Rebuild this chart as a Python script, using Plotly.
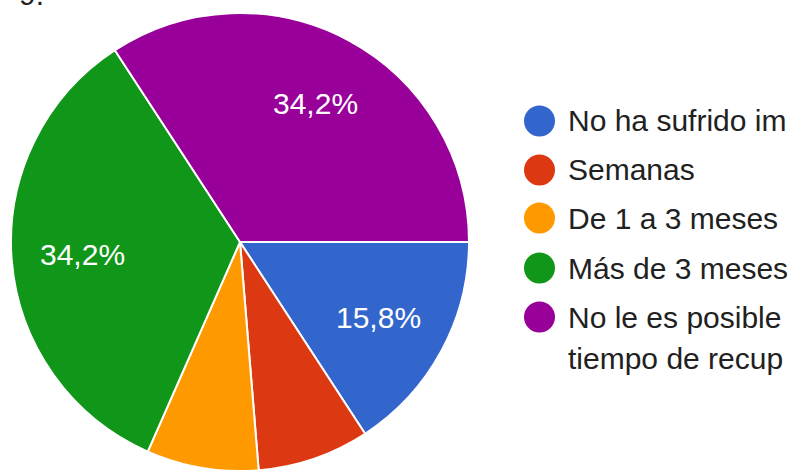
import math
import plotly.graph_objects as go

# ---- data ----
categories = [
    "No ha sufrido im",
    "Semanas",
    "De 1 a 3 meses",
    "Más de 3 meses",
    "No le es posible tiempo de recup",
]
legend_lines = [
    ["No ha sufrido im"],
    ["Semanas"],
    ["De 1 a 3 meses"],
    ["Más de 3 meses"],
    ["No le es posible", "tiempo de recup"],
]
percentages = [15.8, 7.9, 7.9, 34.2, 34.2]
colors = ["#3366cc", "#dc3912", "#ff9900", "#109618", "#990099"]

W, H = 793, 471
FONT = "Liberation Sans, Arial, sans-serif"

def px(x):
    return x / W

def py(y):
    return 1 - y / H

cx, cy, r = 240, 242, 229

fig = go.Figure(
    go.Pie(
        labels=categories,
        values=percentages,
        sort=False,
        direction="clockwise",
        rotation=90,
        marker=dict(colors=colors, line=dict(color="white", width=2)),
        textinfo="none",
        hoverinfo="none",
        showlegend=False,
        domain=dict(x=[px(cx - r), px(cx + r)], y=[0, py(cy - r)]),
    )
)

annotations = []
shapes = []

# slice percentage labels (only large slices, like the source)
total = sum(percentages)
cum = 0.0
for v in percentages:
    mid = (cum + v / 2) / total * 2 * math.pi
    cum += v
    if v / total < 0.1:
        continue
    lx = cx + 0.69 * r * math.cos(mid)
    ly = cy + 0.69 * r * math.sin(mid)
    annotations.append(dict(
        x=px(lx), y=py(ly), xref="paper", yref="paper",
        text=("%.1f%%" % v).replace(".", ","), showarrow=False,
        font=dict(family=FONT, size=30, color="white"),
        xanchor="center", yanchor="middle",
    ))

# custom legend with round markers
row_y = [121, 170, 218, 268, 317]
for i, (lines, col) in enumerate(zip(legend_lines, colors)):
    yc = row_y[i]
    shapes.append(dict(
        type="circle", xref="paper", yref="paper",
        x0=px(524), x1=px(555), y0=py(yc + 15.5), y1=py(yc - 15.5),
        fillcolor=col, line=dict(width=0),
    ))
    for j, t in enumerate(lines):
        annotations.append(dict(
            x=px(566), y=py(yc + j * 41), xref="paper", yref="paper",
            text=t, showarrow=False,
            font=dict(family=FONT, size=30, color="#212121"),
            xanchor="left", yanchor="middle",
        ))

# clipped title fragment at the top-left
annotations.append(dict(
    x=px(46), y=py(-6), xref="paper", yref="paper",
    text="9.", showarrow=False,
    font=dict(family=FONT, size=30, color="#212121"),
    xanchor="right", yanchor="middle",
))

fig.update_layout(
    width=W, height=H,
    margin=dict(l=0, r=0, t=0, b=0),
    paper_bgcolor="white", plot_bgcolor="white",
    annotations=annotations, shapes=shapes,
)

fig.write_html(
    "out.html",
    config={"displayModeBar": False},
    post_script="document.body.style.margin='0';document.body.style.overflow='hidden';",
)
